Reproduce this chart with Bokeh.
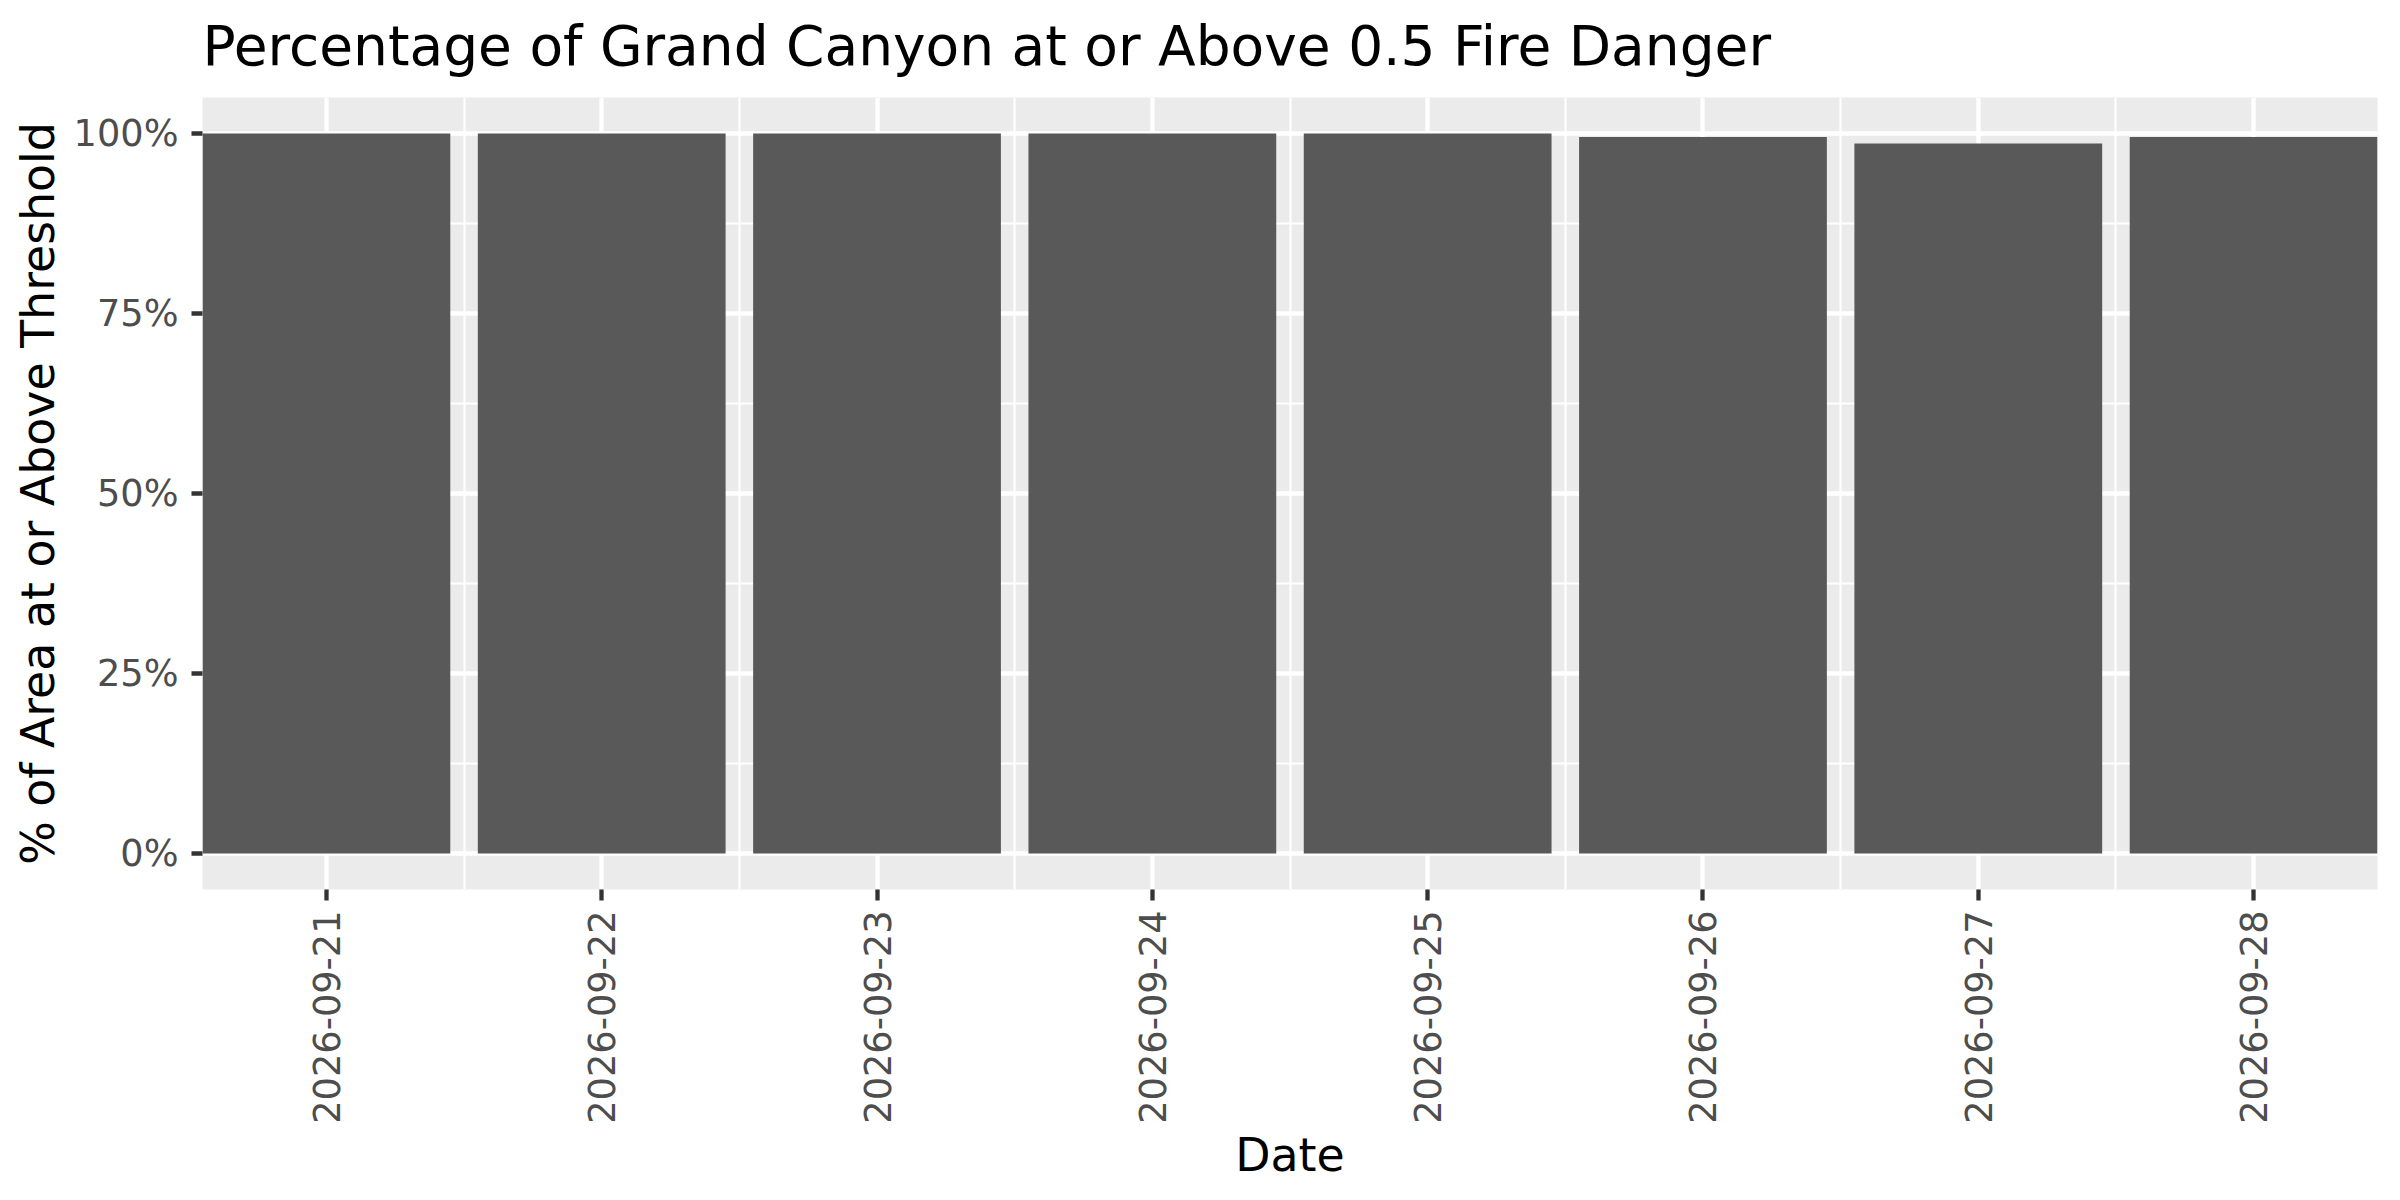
import math

from bokeh.embed import file_html
from bokeh.models import FixedTicker, NumeralTickFormatter, Range1d, Title
from bokeh.plotting import figure
from bokeh.resources import INLINE

# values
dates = ["2026-09-21", "2026-09-22", "2026-09-23", "2026-09-24",
         "2026-09-25", "2026-09-26", "2026-09-27", "2026-09-28"]
share_above = [1.0, 1.0, 1.0, 1.0, 1.0, 0.995, 0.986, 0.995]
y_ticks = [0, 0.25, 0.5, 0.75, 1.0]
title = "Percentage of Grand Canyon at or Above 0.5 Fire Danger"

FONT = "DejaVu Sans"
x_pos = list(range(len(dates)))

p = figure(width=2384, height=1184, output_backend="svg", toolbar_location=None,
           x_range=Range1d(-0.45, len(dates) - 0.55), y_range=Range1d(-0.05, 1.05),
           min_border_left=202, min_border_right=7, min_border_top=97,
           min_border_bottom=295)

p.background_fill_color = "#EBEBEB"
p.border_fill_color = "white"
p.outline_line_color = None

# a thin blank strip between panel and title, then the title itself
p.add_layout(Title(text=" ", text_font_size="1px", standoff=6), "above")
p.add_layout(Title(text=title, text_font=FONT, text_font_size="55px",
                   text_font_style="normal", text_color="black",
                   align="left", standoff=22), "above")

p.vbar(x=x_pos, top=share_above, bottom=0, width=0.9,
       fill_color="#595959", line_color=None)

# ticks and grids in the style of ggplot's grey theme
p.xaxis.ticker = FixedTicker(ticks=x_pos,
                             minor_ticks=[i + 0.5 for i in x_pos[:-1]])
p.xaxis.major_label_overrides = {i: d for i, d in zip(x_pos, dates)}
p.xaxis.major_label_orientation = math.pi / 2
p.xaxis.axis_label = "Date"

p.yaxis.ticker = FixedTicker(ticks=y_ticks,
                             minor_ticks=[(a + b) / 2 for a, b in zip(y_ticks, y_ticks[1:])])
p.yaxis.formatter = NumeralTickFormatter(format="0%")
p.yaxis.axis_label = "% of Area at or Above Threshold"

for ax in p.axis:
    ax.axis_line_color = None
    ax.major_tick_line_color = "#333333"
    ax.major_tick_line_width = 4.3
    ax.major_tick_out = 11
    ax.major_tick_in = 0
    ax.minor_tick_line_color = None
    ax.major_label_text_font = FONT
    ax.major_label_text_font_size = "36.7px"
    ax.major_label_text_color = "#4D4D4D"
    ax.axis_label_text_font = FONT
    ax.axis_label_text_font_size = "45.8px"
    ax.axis_label_text_font_style = "normal"
    ax.axis_label_text_color = "black"

p.xaxis.major_label_standoff = 10
p.xaxis.axis_label_standoff = 1
p.yaxis.major_label_standoff = 13
p.yaxis.axis_label_standoff = 6

for g in p.grid:
    g.grid_line_color = "white"
    g.grid_line_width = 4.3
    g.minor_grid_line_color = "white"
    g.minor_grid_line_width = 2.1

open("out.html", "w").write(file_html(p, INLINE))
